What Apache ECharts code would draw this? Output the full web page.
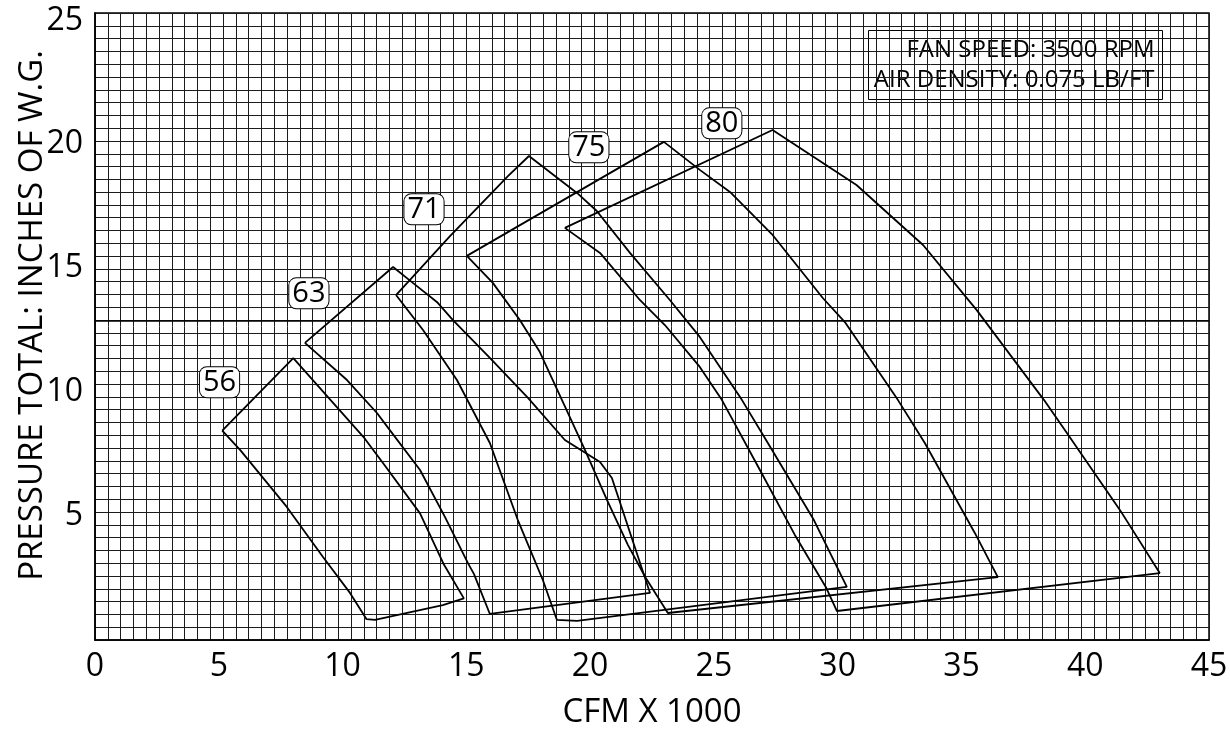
<!DOCTYPE html>
<html>
<head>
<meta charset="utf-8">
<script src="https://cdn.jsdelivr.net/npm/echarts/dist/echarts.min.js"></script>
<style>
html,body{margin:0;padding:0;background:#fff;}
#chart{width:1230px;height:731px;}
</style>
</head>
<body>
<div id="chart"></div>
<script>
// ---- data (x = CFM x 1000, y = inches W.G.) ----
const fan56 = [[5.14,8.45],[8.01,11.37],[10.84,8.20],[11.64,7.13],[13.13,5.11],[14.07,3.09],[14.90,1.68],[14.05,1.41],[11.31,0.81],[10.97,0.84],[10.30,1.90],[9.21,3.35],[7.74,5.38],[5.86,7.67],[5.14,8.45]];
const fan63 = [[8.48,11.99],[12.04,15.05],[12.84,14.41],[13.81,13.64],[14.46,12.91],[15.95,11.38],[17.49,9.77],[18.98,8.07],[20.40,7.18],[20.88,6.54],[22.42,1.90],[15.95,1.05],[15.31,2.66],[15.06,3.11],[14.14,4.96],[13.13,6.86],[11.91,8.47],[11.39,9.16],[10.18,10.49],[8.48,11.99]];
const fan71 = [[12.16,13.92],[14.34,16.30],[15.95,17.96],[16.68,18.72],[17.53,19.53],[19.47,18.04],[20.27,17.31],[21.61,15.62],[23.22,13.72],[24.43,12.23],[26.13,9.69],[27.18,7.95],[29.04,4.84],[30.37,2.14],[19.47,0.77],[18.66,0.81],[18.09,2.42],[17.08,4.84],[15.95,7.95],[14.62,10.49],[13.25,12.51],[12.16,13.92]];
const fan75 = [[15.02,15.50],[22.98,20.10],[24.43,18.97],[25.65,18.08],[27.34,16.38],[29.40,13.80],[30.29,12.83],[32.43,9.69],[33.52,7.95],[35.54,4.32],[36.47,2.54],[23.14,1.09],[22.25,2.50],[21.53,3.83],[20.68,5.65],[19.79,7.67],[18.86,9.69],[17.97,11.62],[17.16,12.91],[16.07,14.41],[15.02,15.50]];
const fan80 = [[18.98,16.63],[27.37,20.58],[30.76,18.36],[33.45,15.94],[35.61,13.32],[38.33,9.69],[39.26,8.35],[41.40,5.25],[43.01,2.70],[29.97,1.17],[29.52,2.14],[28.27,4.24],[26.86,6.86],[25.32,9.69],[24.43,11.02],[23.02,12.71],[22.01,13.72],[20.40,15.62],[18.98,16.63]];
const fanNames = ['56','63','71','75','80'];
const fanLabelX = [5.03, 8.64, 13.29, 19.95, 25.32];
const fanLabelY = [10.40, 13.99, 17.38, 19.88, 20.85];
const referenceLine = 12.9;
const xMin = 0, xMax = 45, xStep = 5;
const yMin = 0, yMax = 25.3, yStep = 5;
const gridCellsX = 87, gridCellsY = 49;
const xAxisName = 'CFM X 1000';
const yAxisName = 'PRESSURE TOTAL: INCHES OF W.G.';
const infoLines = ['FAN SPEED: 3500 RPM', 'AIR DENSITY: 0.075 LB/FT'];

const FONT = '"Open Sans", "DejaVu Sans", sans-serif';
const chart = echarts.init(document.getElementById('chart'), null, {renderer:'canvas'});

const fans = [fan56, fan63, fan71, fan75, fan80];
const series = fans.map((d, i) => ({
  type: 'line', name: 'fan' + fanNames[i], data: d, xAxisIndex: 0, yAxisIndex: 0,
  symbol: 'none', smooth: false, silent: true,
  lineStyle: {color: '#000', width: 1.8}, z: 5
}));
series.push({
  type: 'line', name: 'ref', data: [], xAxisIndex: 0, yAxisIndex: 0, symbol: 'none',
  markLine: {silent: true, symbol: 'none', label: {show: false},
    lineStyle: {color: '#000', width: 1.6, type: 'solid'},
    data: [{yAxis: referenceLine}]}, z: 4
});
series.push({
  type: 'scatter', name: 'labels', xAxisIndex: 0, yAxisIndex: 0,
  data: fanNames.map((n, i) => ({value: [fanLabelX[i], fanLabelY[i]], name: n})),
  symbolSize: 0, silent: true, z: 10,
  itemStyle: {opacity: 1},
  label: {show: true, position: 'inside', formatter: p => p.name,
    fontFamily: FONT, fontSize: 29, color: '#000', opacity: 1,
    backgroundColor: '#fff', borderColor: '#000', borderWidth: 1, borderRadius: 7,
    padding: [0, 3, 0, 3], lineHeight: 30}
});

chart.setOption({
  animation: false,
  backgroundColor: '#fff',
  textStyle: {fontFamily: FONT},
  grid: {left: 95, right: 21, top: 13, bottom: 91, containLabel: false, outerBoundsMode: 'none',
    show: true, borderColor: '#000', borderWidth: 1.5, backgroundColor: 'transparent'},
  xAxis: [{
    type: 'value', min: xMin, max: xMax, interval: xStep,
    axisLine: {show: true, lineStyle: {color: '#000', width: 1.5}},
    axisTick: {show: false}, splitLine: {show: false},
    axisLabel: {fontSize: 32, color: '#000', margin: 11, fontFamily: FONT},
    name: xAxisName, nameLocation: 'middle', nameGap: 56, nameMoveOverlap: false,
    nameTextStyle: {fontSize: 33, color: '#000', fontFamily: FONT}
  }, {
    type: 'value', min: 0, max: gridCellsX, interval: 1, position: 'top',
    axisLine: {show: false}, axisTick: {show: false}, axisLabel: {show: false},
    splitLine: {show: true, lineStyle: {color: '#1c1c1c', width: 1}}
  }],
  yAxis: [{
    type: 'value', min: yMin, max: yMax, interval: yStep,
    axisLine: {show: true, lineStyle: {color: '#000', width: 1.5}},
    axisTick: {show: false}, splitLine: {show: false},
    axisLabel: {fontSize: 32, color: '#000', margin: 12, fontFamily: FONT,
      formatter: v => (v > 0 && Math.abs(v % 5) < 1e-9) ? String(v) : ''},
    name: yAxisName, nameLocation: 'middle', nameGap: 46, nameMoveOverlap: false,
    nameTextStyle: {fontSize: 33, color: '#000', fontFamily: FONT, padding: [0, 0, 0, 22]}
  }, {
    type: 'value', min: 0, max: gridCellsY, interval: 1, position: 'right',
    axisLine: {show: false}, axisTick: {show: false}, axisLabel: {show: false},
    splitLine: {show: true, lineStyle: {color: '#1c1c1c', width: 1}}
  }],
  graphic: [{
    type: 'group', left: 868, top: 30, z: 20,
    children: [
      {type: 'rect', shape: {x: 0, y: 0, width: 294, height: 69}, style: {fill: '#fff', stroke: '#000', lineWidth: 1}},
      {type: 'text', style: {x: 286, y: 20, text: infoLines[0], align: 'right', verticalAlign: 'middle', font: '24px ' + FONT, fill: '#000'}},
      {type: 'text', style: {x: 286, y: 50, text: infoLines[1], align: 'right', verticalAlign: 'middle', font: '24px ' + FONT, fill: '#000'}}
    ]
  }],
  series: series
});
</script>
</body>
</html>
